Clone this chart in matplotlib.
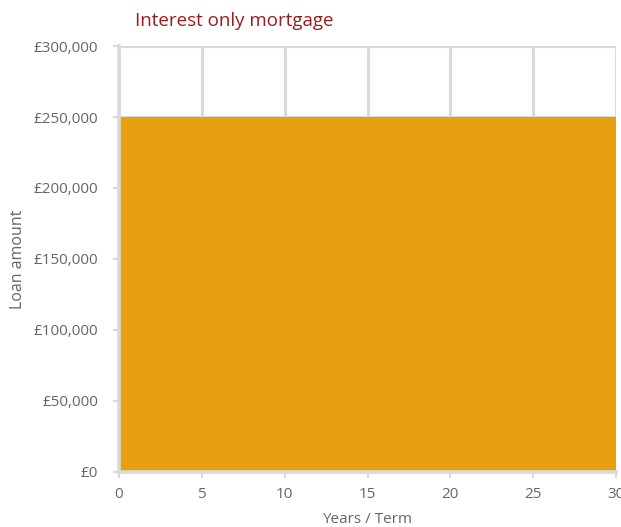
import matplotlib.pyplot as plt
from matplotlib.ticker import FuncFormatter

# Interest only: the balance stays at the full loan for the whole term
years = [0, 30]
balance = [250000, 250000]

x_ticks = [0, 5, 10, 15, 20, 25, 30]
y_ticks = [0, 50000, 100000, 150000, 200000, 250000, 300000]

GRID = "#d9d9d9"
TEXT = "#666666"
FILL = "#e6a010"

plt.rcParams["font.family"] = ["Open Sans", "DejaVu Sans"]

fig = plt.figure(figsize=(6.21, 5.27), dpi=100)
ax = fig.add_axes([0.1916, 0.1044, 0.8004, 0.8083])

ax.fill_between(years, balance, 0, color=FILL, linewidth=0, zorder=1)

ax.set_xlim(0, 30)
ax.set_ylim(0, 300000)
ax.set_xticks(x_ticks)
ax.set_yticks(y_ticks)
ax.yaxis.set_major_formatter(FuncFormatter(lambda v, _: f"£{v:,.0f}"))

ax.set_axisbelow(True)
ax.grid(True, color=GRID, linewidth=2.2)
for side in ["top", "right"]:
    ax.spines[side].set_visible(False)
for side in ["left", "bottom"]:
    ax.spines[side].set_color(GRID)
    ax.spines[side].set_linewidth(2.6)

ax.tick_params(axis="both", colors=GRID, labelcolor=TEXT, labelsize=11, width=1.5, length=4)
ax.tick_params(axis="y", pad=11)
ax.tick_params(axis="x", pad=7)

ax.set_xlabel("Years / Term", color=TEXT, fontsize=11)
ax.set_ylabel("Loan amount", color=TEXT, fontsize=11.5)
ax.xaxis.set_label_coords(0.5, -0.094)
ax.yaxis.set_label_coords(-0.187, 0.5)

fig.text(135 / 621, 1 - 21 / 527, "Interest only mortgage", color="#9b1b1f",
         fontsize=13.5, ha="left", va="center")

fig.savefig("out.png", dpi=100)
